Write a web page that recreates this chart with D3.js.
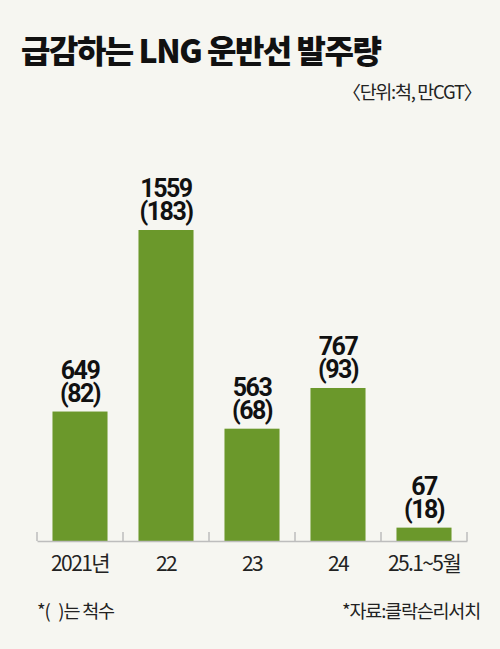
<!DOCTYPE html>
<html><head><meta charset="utf-8">
<script src="https://cdn.jsdelivr.net/npm/d3@7"></script>
<style>
html,body{margin:0;padding:0;background:#f6f6f1;}
svg{display:block;}
text{white-space:pre;}
</style></head>
<body>
<script>
const categories = ["2021년", "22", "23", "24", "25.1~5월"];
const cgtValues = [649, 1559, 563, 767, 67];
const shipCounts = [82, 183, 68, 93, 18];
const title = "급감하는 LNG 운반선 발주량";
const unitNote = "〈단위:척, 만CGT〉";
const noteLeft = "*(   )는 척수";
const noteRight = "*자료:클락슨리서치";

const KR = '"Noto Sans CJK KR","Noto Sans",sans-serif';
const W = 500, H = 649;
const svg = d3.select("body").append("svg").attr("width", W).attr("height", H)
  .style("font-family", KR);
svg.append("rect").attr("width", W).attr("height", H).attr("fill", "#f6f6f1");

const x0 = 37, x1 = 467, yBase = 541;
const x = d3.scaleBand().domain(categories).range([x0, x1]).paddingInner(0.36).paddingOuter(0.18);
const y = d3.scaleLinear().domain([0, 1559]).range([yBase, 230]);

svg.append("text").attr("x", 21).attr("y", 63).attr("font-size", 32).attr("font-weight", 900)
  .attr("letter-spacing", -1.5).attr("fill", "#111").text(title);
svg.append("text").attr("x", 481).attr("y", 99).attr("text-anchor", "end").attr("font-size", 18.5)
  .attr("letter-spacing", -1.3).attr("fill", "#222").text(unitNote);

svg.selectAll("rect.bar").data(categories).join("rect").attr("class", "bar")
  .attr("x", d => x(d)).attr("width", x.bandwidth())
  .attr("y", (d, i) => y(cgtValues[i])).attr("height", (d, i) => yBase - y(cgtValues[i]))
  .attr("fill", "#6b982b");

// axis
const axis = d3.axisBottom(x).tickSize(0).tickSizeOuter(0);
const gAx = svg.append("g").attr("transform", `translate(0,${yBase})`).call(axis);
gAx.attr("font-family", null).attr("font-size", null);
gAx.select(".domain").attr("stroke", "#bdbdbd").attr("stroke-width", 1.5);
gAx.selectAll("text").attr("font-size", 21).attr("fill", "#222").attr("letter-spacing", -1.6)
  .attr("dy", null).attr("y", 30).style("font-family", KR);
// separators between bands
const sepX = d3.range(categories.length + 1).map(i => x0 + i * (x1 - x0) / categories.length);
svg.selectAll("line.sep").data(sepX).join("line").attr("class", "sep")
  .attr("x1", d => d).attr("x2", d => d).attr("y1", yBase - 9).attr("y2", yBase)
  .attr("stroke", "#bdbdbd").attr("stroke-width", 1.5);

// value labels (one text, two lines)
const lab = svg.selectAll("text.lab").data(categories).join("text").attr("class", "lab")
  .attr("text-anchor", "middle").attr("font-size", 25).attr("font-weight", 700)
  .attr("letter-spacing", -1.5).style("font-family", "Roboto, sans-serif").attr("fill", "#111");
lab.append("tspan").attr("x", d => x(d) + x.bandwidth() / 2).attr("y", (d, i) => y(cgtValues[i]) - 33)
  .text((d, i) => cgtValues[i]);
lab.append("tspan").attr("x", d => x(d) + x.bandwidth() / 2).attr("y", (d, i) => y(cgtValues[i]) - 10)
  .text((d, i) => `(${shipCounts[i]})`);

svg.append("text").attr("x", 37).attr("y", 618).attr("font-size", 18.5).attr("letter-spacing", -1.2)
  .attr("fill", "#222").text(noteLeft);
svg.append("text").attr("x", 480).attr("y", 618).attr("text-anchor", "end").attr("font-size", 18.5)
  .attr("letter-spacing", -1.2).attr("fill", "#222").text(noteRight);
</script>
</body></html>
